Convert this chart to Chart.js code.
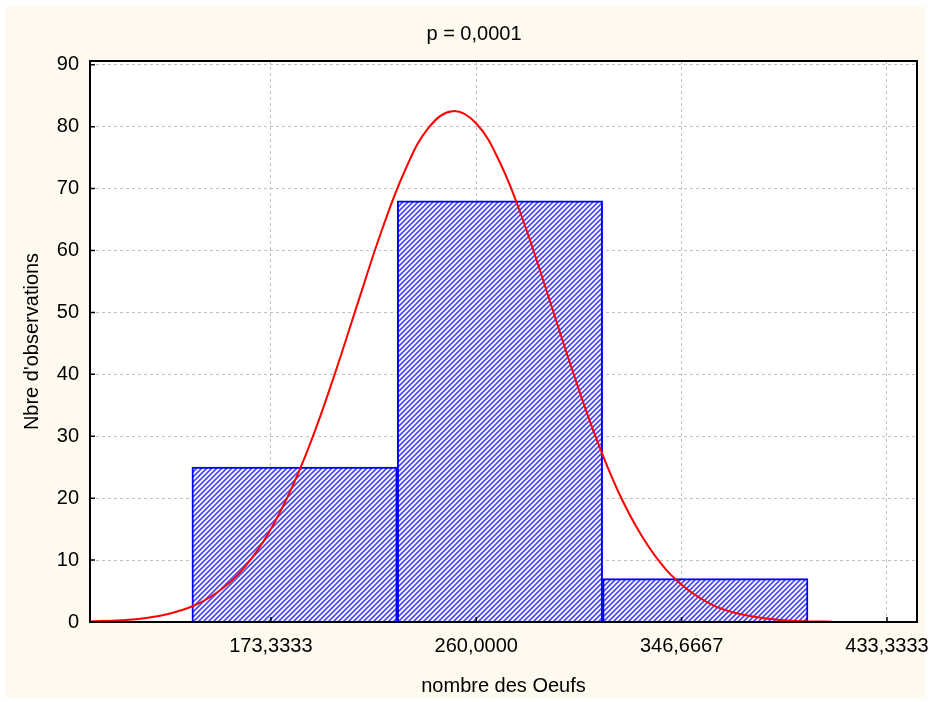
<!DOCTYPE html>
<html>
<head>
<meta charset="utf-8">
<script src="https://cdn.jsdelivr.net/npm/chart.js@4/dist/chart.umd.min.js"></script>
<style>
  html, body { margin: 0; padding: 0; background: #ffffff; }
  #wrap { width: 931px; height: 702px; }
</style>
</head>
<body>
<div id="wrap"><canvas id="chart" width="931" height="702"></canvas></div>
<script>
// ---- data ----
var binCenters = [183.3333, 270.0000, 356.6667];
var binCounts = [25, 68, 7];
var xTicks = [173.3333, 260.0000, 346.6667, 433.3333];
var curveX = [97, 110, 120, 130, 140, 150, 160, 170, 180, 190, 200, 210, 220, 230, 240, 250,
              260, 270, 280, 290, 300, 310, 320, 330, 340, 350, 360, 370, 380, 390, 400, 410];
var curveY = [0.1, 0.3, 0.6, 1.3, 2.5, 4.6, 7.9, 12.9, 19.9, 28.9, 39.7, 51.5, 63.1, 73.0, 79.9, 82.5,
              80.5, 74.2, 64.6, 53.1, 41.3, 30.3, 21.0, 13.8, 8.5, 5.0, 2.7, 1.4, 0.7, 0.3, 0.1, 0.05];

var titleText = 'p = 0,0001';
var xTitle = 'nombre des Oeufs';
var yTitle = "Nbre d'observations";
var fontFamily = '"Liberation Sans", Arial, sans-serif';
var fontSize = 20;

// hatched fill for the bars
function makeHatch() {
    let c = document.createElement('canvas');
    c.width = 5; c.height = 5;
    let g = c.getContext('2d');
    g.fillStyle = '#ffffff';
    g.fillRect(0, 0, 5, 5);
    g.strokeStyle = '#4a4af8';
    g.lineWidth = 1.7;
    g.beginPath();
    g.moveTo(-1, 6); g.lineTo(6, -1);
    g.moveTo(-1, 1); g.lineTo(1, -1);
    g.moveTo(4, 6); g.lineTo(6, 4);
    g.stroke();
    return g.createPattern(c, 'repeat');
}

var frame = {
    id: 'frame',
    beforeDraw: function(chart) {
        let ctx = chart.ctx;
        ctx.save();
        ctx.fillStyle = '#ffffff';
        ctx.fillRect(0, 0, chart.width, chart.height);
        ctx.fillStyle = '#fffaf0';
        ctx.fillRect(5, 6, 920, 692);
        let a = chart.chartArea;
        ctx.fillStyle = '#ffffff';
        ctx.fillRect(a.left, a.top, a.right - a.left, a.bottom - a.top);
        ctx.restore();
    },
    afterDraw: function(chart) {
        let ctx = chart.ctx;
        let a = chart.chartArea;
        ctx.save();
        ctx.strokeStyle = '#000000';
        ctx.lineWidth = 2;
        ctx.strokeRect(a.left, a.top, a.right - a.left, a.bottom - a.top);
        // inside tick marks
        ctx.lineWidth = 1.5;
        ctx.beginPath();
        chart.scales.x.ticks.forEach(function(t) {
            let px = chart.scales.x.getPixelForValue(t.value);
            ctx.moveTo(px, a.bottom); ctx.lineTo(px, a.bottom - 5);
        });
        chart.scales.y.ticks.forEach(function(t) {
            let py = chart.scales.y.getPixelForValue(t.value);
            ctx.moveTo(a.left, py); ctx.lineTo(a.left + 5, py);
        });
        ctx.stroke();
        // texts
        ctx.fillStyle = '#000000';
        ctx.font = fontSize + 'px ' + fontFamily;
        ctx.textAlign = 'center';
        ctx.textBaseline = 'middle';
        ctx.fillText(titleText, 474, 34);
        ctx.fillText(xTitle, (a.left + a.right) / 2, 686);
        ctx.translate(32, (a.top + a.bottom) / 2);
        ctx.rotate(-Math.PI / 2);
        ctx.fillText(yTitle, 0, 0);
        ctx.restore();
    }
};

var ctx = document.getElementById('chart');
var chart = new Chart(ctx, {
    type: 'bar',
    data: {
        datasets: [
            {
                type: 'line',
                data: curveX.map((x, i) => ({x: x, y: curveY[i]})),
                borderColor: '#ff0000',
                borderWidth: 2,
                pointRadius: 0,
                tension: 0.4,
                fill: false,
                order: 0
            },
            {
                type: 'bar',
                data: binCenters.map((x, i) => ({x: x, y: binCounts[i]})),
                backgroundColor: makeHatch(),
                borderColor: '#0000ff',
                borderWidth: 2,
                barPercentage: 1,
                categoryPercentage: 1,
                grouped: false,
                order: 1
            }
        ]
    },
    plugins: [frame],
    options: {
        responsive: false,
        animation: false,
        layout: { padding: { left: 0, right: 14, top: 61, bottom: 0 } },
        plugins: {
            legend: { display: false },
            tooltip: { enabled: false },
            title: { display: false }
        },
        scales: {
            x: {
                type: 'linear',
                offset: false,
                min: 97,
                max: 446,
                afterBuildTicks: function(scale) {
                    scale.ticks = xTicks.map(v => ({value: v}));
                },
                afterFit: function(scale) {
                    scale.height = 80;
                    scale.paddingLeft = 0;
                    scale.paddingRight = 0;
                },
                ticks: {
                    color: '#000000',
                    font: { family: fontFamily, size: fontSize },
                    padding: 12,
                    maxRotation: 0,
                    callback: v => v.toFixed(4).replace('.', ',')
                },
                grid: { color: '#c0c0c0', drawTicks: false, offset: false },
                border: { display: false, dash: [3, 3] }
            },
            y: {
                min: 0,
                max: 90.6,
                afterBuildTicks: function(scale) {
                    let t = [];
                    for (let v = 0; v <= 90; v += 10) t.push({value: v});
                    scale.ticks = t;
                },
                afterFit: function(scale) {
                    scale.width = 90;
                    scale.paddingTop = 0;
                    scale.paddingBottom = 0;
                },
                ticks: {
                    color: '#000000',
                    font: { family: fontFamily, size: fontSize },
                    padding: 11,
                    callback: v => String(v)
                },
                grid: { color: '#c0c0c0', drawTicks: false },
                border: { display: false, dash: [3, 3] }
            }
        }
    }
});
</script>
</body>
</html>
